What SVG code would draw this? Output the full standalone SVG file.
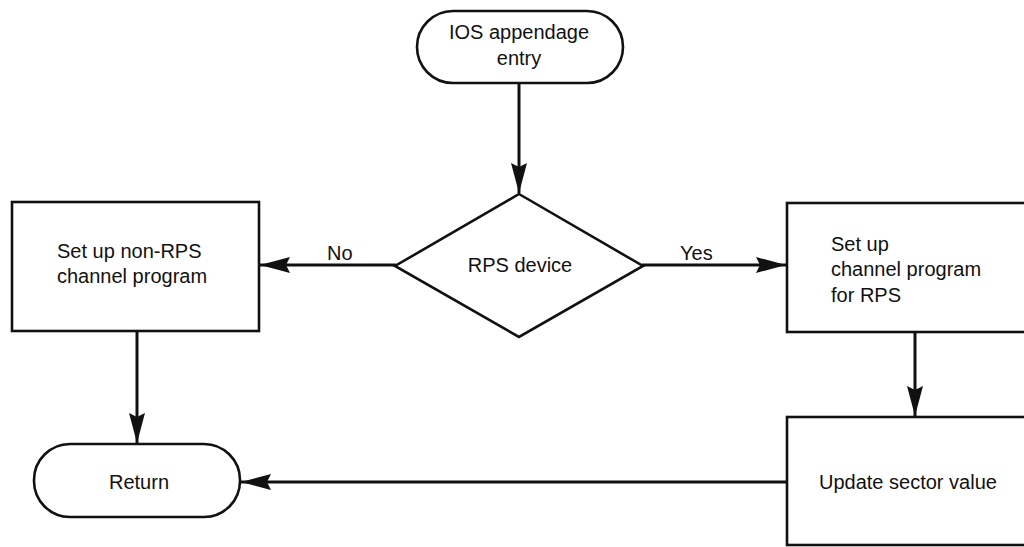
<svg xmlns="http://www.w3.org/2000/svg" width="1024" height="547" viewBox="0 0 1024 547">
  <style>
    .shape { fill: #fff; stroke: #111; stroke-width: 2.6; }
    .line { fill: none; stroke: #111; stroke-width: 3; }
    .label { font-family: "Liberation Sans", Arial, sans-serif; font-size: 20px; fill: #111; }
    .mid { text-anchor: middle; }
  </style>
  <defs>
    <marker id="head" markerUnits="userSpaceOnUse" markerWidth="34" markerHeight="20" viewBox="-32 -10 34 20" refX="0" refY="0" orient="auto">
      <path d="M0,0 L-30,-8 L-26,0 L-30,8 Z" fill="#111"/>
    </marker>
  </defs>
  <rect width="1024" height="547" fill="#fff"/>

  <g id="connectors">
    <line class="line" x1="519" y1="83" x2="519" y2="193" marker-end="url(#head)"/>
    <line class="line" x1="396" y1="265" x2="260" y2="265" marker-end="url(#head)"/>
    <line class="line" x1="642" y1="265" x2="786" y2="265" marker-end="url(#head)"/>
    <line class="line" x1="915" y1="332" x2="915" y2="416" marker-end="url(#head)"/>
    <line class="line" x1="137" y1="331" x2="137" y2="443" marker-end="url(#head)"/>
    <line class="line" x1="787" y1="482" x2="241" y2="482" marker-end="url(#head)"/>
    <text class="label" x="327" y="260">No</text>
    <text class="label" x="680" y="260">Yes</text>
  </g>

  <g id="start">
    <rect class="shape" x="417" y="11" width="206" height="72" rx="36" ry="36"/>
    <text class="label mid" x="519" y="39">IOS appendage</text>
    <text class="label mid" x="519" y="65">entry</text>
  </g>

  <g id="decision">
    <polygon class="shape" points="519,194 643,266 519,337 395,266"/>
    <text class="label mid" x="520" y="272">RPS device</text>
  </g>

  <g id="non-rps">
    <rect class="shape" x="12" y="202" width="247" height="129"/>
    <text class="label" x="57" y="258">Set up non-RPS</text>
    <text class="label" x="57" y="283">channel program</text>
  </g>

  <g id="rps">
    <rect class="shape" x="787" y="203" width="250" height="129"/>
    <text class="label" x="831" y="251">Set up</text>
    <text class="label" x="831" y="276">channel program</text>
    <text class="label" x="831" y="302">for RPS</text>
  </g>

  <g id="update">
    <rect class="shape" x="787" y="417" width="250" height="128"/>
    <text class="label" x="819" y="489">Update sector value</text>
  </g>

  <g id="return">
    <rect class="shape" x="34" y="444" width="206" height="73" rx="36" ry="36"/>
    <text class="label mid" x="139" y="489">Return</text>
  </g>
</svg>
